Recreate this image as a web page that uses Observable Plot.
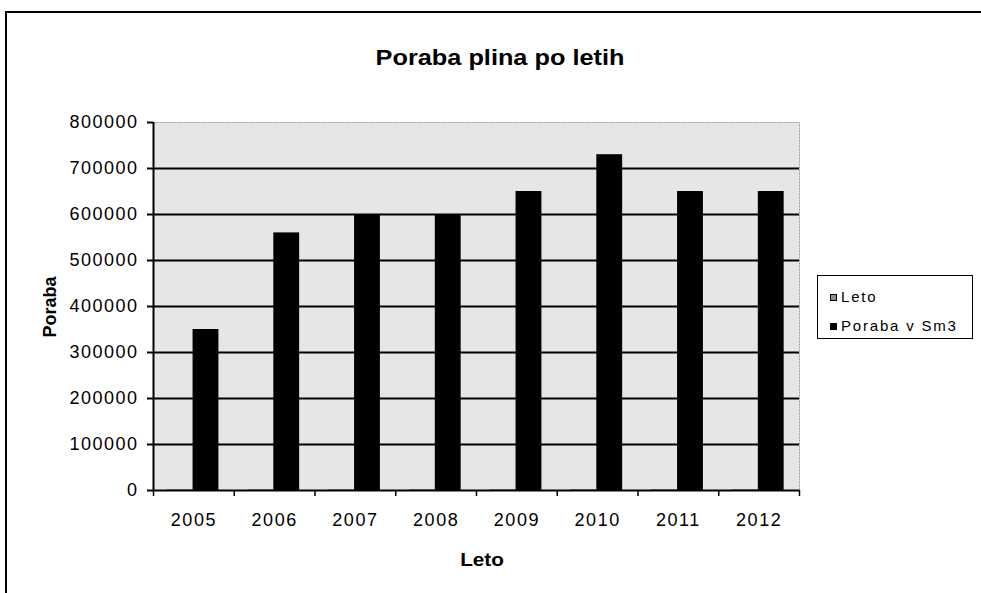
<!DOCTYPE html>
<html>
<head>
<meta charset="utf-8">
<script src="https://cdn.jsdelivr.net/npm/d3@7"></script>
<script src="https://cdn.jsdelivr.net/npm/@observablehq/plot@0.6"></script>
<style>
  html, body { margin: 0; padding: 0; background: #fff; }
  #wrap { position: relative; width: 981px; height: 593px; overflow: hidden; font-family: "Liberation Sans", Arial, sans-serif; color: #000; }
  #frame { position: absolute; left: 5px; top: 11px; width: 990px; height: 600px; border-top: 2px solid #000; border-left: 2px solid #000; }
  #title { position: absolute; left: 500px; top: 58px; transform: translate(-50%, -50%) scaleX(1.15); font-weight: bold; font-size: 22px; white-space: nowrap; }
  #ylabel { position: absolute; left: 50px; top: 307px; transform: translate(-50%, -50%) rotate(-90deg); font-weight: bold; font-size: 18px; white-space: nowrap; }
  #xlabel { position: absolute; left: 482px; top: 560px; transform: translate(-50%, -50%) scaleX(1.15); font-weight: bold; font-size: 18px; }
  #legend { position: absolute; left: 817px; top: 275px; width: 156px; height: 64px; border: 1px solid #000; background: #fff; box-sizing: border-box; }
  .li { position: absolute; left: 12px; font-size: 15px; letter-spacing: 1.8px; white-space: nowrap; line-height: 1; }
  .sw { display: inline-block; width: 7px; height: 7px; margin-right: 4px; vertical-align: 1px; box-sizing: border-box; }
</style>
</head>
<body>
<div id="wrap">
  <div id="frame"></div>
  <div id="chart"></div>
  <div id="title"></div>
  <div id="ylabel"></div>
  <div id="xlabel"></div>
  <div id="legend"></div>
</div>
<script>
// ---- data ----
const title = "Poraba plina po letih";
const xTitle = "Leto";
const yTitle = "Poraba";
const years = [2005, 2006, 2007, 2008, 2009, 2010, 2011, 2012];
const leto = [2005, 2006, 2007, 2008, 2009, 2010, 2011, 2012];
const poraba = [350000, 560000, 600000, 600000, 650000, 730000, 650000, 650000];
const yTicks = [0, 100000, 200000, 300000, 400000, 500000, 600000, 700000, 800000];
const seriesNames = ["Leto", "Poraba v Sm3"];
const seriesColors = ["#8c8c8c", "#000000"];

const letoRows = years.map((y, i) => ({year: y, value: leto[i]}));
const porabaRows = years.map((y, i) => ({year: y, value: poraba[i]}));
const boundaries = [years[0] - 0.5, ...years.map(y => y + 0.5)];
const gridTicks = yTicks.slice(1, -1);

const chart = Plot.plot({
  width: 981,
  height: 593,
  marginLeft: 153,
  marginRight: 182,
  marginTop: 122,
  marginBottom: 103,
  style: {fontFamily: "'Liberation Sans', Arial, sans-serif", fontSize: "18px", letterSpacing: "1.5px", color: "#000", background: "transparent", overflow: "visible"},
  x: {type: "linear", domain: [boundaries[0], boundaries[boundaries.length - 1]], axis: null, label: null},
  y: {domain: [0, yTicks[yTicks.length - 1]], axis: null, label: null},
  marks: [
    Plot.frame({fill: "#e6e6e6", stroke: "#9a9a9a", strokeDasharray: "2,1"}),
    Plot.ruleY(gridTicks, {stroke: "#000", strokeWidth: 2}),
    Plot.rectY(letoRows, {x1: d => d.year - 0.33, x2: d => d.year - 0.01, y: "value", fill: seriesColors[0]}),
    Plot.rectY(porabaRows, {x1: d => d.year - 0.01, x2: d => d.year + 0.31, y: "value", fill: seriesColors[1]}),
    Plot.ruleY([0], {stroke: "#000", strokeWidth: 2}),
    Plot.ruleX([boundaries[0]], {stroke: "#000", strokeWidth: 2}),
    Plot.axisY({ticks: yTicks, label: null, tickFormat: d3.format("d"), tickSize: 6, tickPadding: 9, strokeWidth: 2, stroke: "#000", fill: "#000", fontSize: 18}),
    Plot.axisX({ticks: boundaries, label: null, tickFormat: () => "", tickSize: 6, strokeWidth: 1.5, stroke: "#000"}),
    Plot.axisX({ticks: years, label: null, tickFormat: d => String(d), tickSize: 0, tickPadding: 23, fill: "#000", fontSize: 18})
  ]
});
document.getElementById("chart").appendChild(chart);

document.getElementById("title").textContent = title;
document.getElementById("ylabel").textContent = yTitle;
document.getElementById("xlabel").textContent = xTitle;

const legend = document.getElementById("legend");
seriesNames.forEach((name, i) => {
  const item = document.createElement("div");
  item.className = "li";
  item.style.top = (i === 0 ? 13 : 42) + "px";
  const sw = document.createElement("span");
  sw.className = "sw";
  sw.style.background = seriesColors[i];
  sw.style.border = "1px solid #000";
  item.appendChild(sw);
  item.appendChild(document.createTextNode(name));
  legend.appendChild(item);
});
</script>
</body>
</html>
